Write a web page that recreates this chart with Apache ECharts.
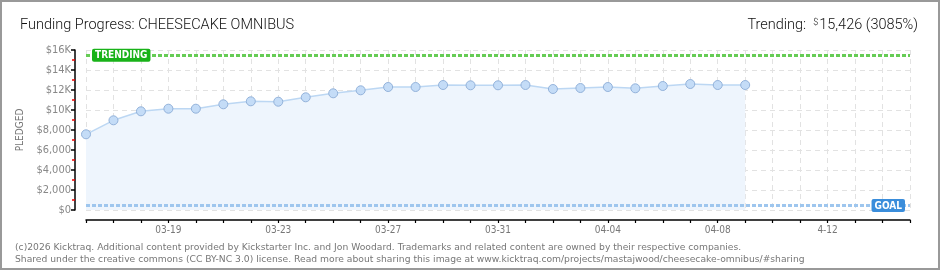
<!DOCTYPE html>
<html><head><meta charset="utf-8">
<script src="https://cdn.jsdelivr.net/npm/echarts@6/dist/echarts.min.js"></script>
<style>
html,body{margin:0;padding:0;background:#fff;}
#wrap{position:absolute;left:0;top:0;width:936px;height:266px;border:2px solid #999;}
#c{position:absolute;left:-2px;top:-2px;width:940px;height:270px;}
</style></head><body>
<div id="wrap"><div id="c"></div></div>
<script>
const categories = ['03-16','03-17','03-18','03-19','03-20','03-21','03-22','03-23','03-24','03-25','03-26','03-27','03-28','03-29','03-30','03-31','04-01','04-02','04-03','04-04','04-05','04-06','04-07','04-08','04-09','04-10','04-11','04-12','04-13','04-14','04-15'];
const xTickLabels = {'03-19':'03-19','03-23':'03-23','03-27':'03-27','03-31':'03-31','04-04':'04-04','04-08':'04-08','04-12':'4-12'};
const pledged = [7570,8970,9870,10130,10130,10570,10870,10830,11270,11670,11970,12300,12300,12500,12470,12470,12500,12100,12200,12300,12170,12400,12600,12500,12500];
const yTickLabels = ['$0','$2,000','$4,000','$6,000','$8,000','$10K','$12K','$14K','$16K'];
const trending = 15426;
const goal = 500;

const chart = echarts.init(document.getElementById('c'));
const pixFont = '"DejaVu Sans Condensed","DejaVu Sans",sans-serif';
const titleFont = 'Roboto,sans-serif';
chart.setOption({
  animation:false,
  title:[
    {text:'Funding Progress: CHEESECAKE OMNIBUS',left:15,top:13,textStyle:{fontFamily:titleFont,fontWeight:300,fontSize:14.5,color:'#111'}},
    {text:'Trending:  {s|$}15,426 (3085%)',right:17,top:13,textStyle:{fontFamily:titleFont,fontWeight:300,fontSize:14.5,color:'#111',rich:{s:{fontSize:9,verticalAlign:'top',color:'#111',fontFamily:titleFont,fontWeight:300,padding:[0,1,6,0]}}}},
    {text:'(c)2026 Kicktraq. Additional content provided by Kickstarter Inc. and Jon Woodard. Trademarks and related content are owned by their respective companies.\nShared under the creative commons (CC BY-NC 3.0) license. Read more about sharing this image at www.kicktraq.com/projects/mastajwood/cheesecake-omnibus/#sharing',
     left:10,top:236,textStyle:{fontFamily:'DejaVu Sans',fontWeight:'normal',fontSize:9.2,color:'#777',lineHeight:12.5}}
  ],
  grid:{left:86,top:50,right:30,bottom:60},
  xAxis:{
    type:'category',data:categories,boundaryGap:false,offset:10,
    axisLine:{onZero:false,lineStyle:{color:'#000',width:1.5}},
    axisTick:{interval:0,length:3,lineStyle:{color:'#000',width:1.2}},
    axisLabel:{interval:0,formatter:v=>xTickLabels[v]||'',color:'#777',fontFamily:pixFont,fontSize:10,margin:5},
    splitLine:{show:true,interval:0,lineStyle:{color:'#e2e2e2',type:[5,4]}}
  },
  yAxis:{
    type:'value',min:0,max:16000,interval:2000,offset:11,
    name:'PLEDGED',nameLocation:'middle',nameGap:50,nameRotate:90,
    nameTextStyle:{color:'#777',fontFamily:pixFont,fontSize:10,fontWeight:'normal'},
    axisLine:{show:true,onZero:false,lineStyle:{color:'#000',width:1.5}},
    axisTick:{show:true,inside:false,length:4,lineStyle:{color:'#000',width:1.5}},
    minorTick:{show:true,splitNumber:2,length:3,lineStyle:{color:'#e00',width:1.5}},
    axisLabel:{formatter:v=>yTickLabels[Math.round(v/2000)],color:'#888',fontFamily:pixFont,fontSize:11,margin:4},
    splitLine:{show:true,lineStyle:{color:'#e2e2e2',type:[5,4]}}
  },
  series:[{
    type:'line',data:pledged,
    symbol:'circle',symbolSize:9,
    itemStyle:{color:'#c4dcf7',borderColor:'#93b2da',borderWidth:1},
    lineStyle:{color:'#bcd7f3',width:1.5},
    areaStyle:{color:'#eef5fd',opacity:1},
    z:3,
    markLine:{
      silent:true,symbol:'none',
      data:[
        {yAxis:trending,lineStyle:{color:'#66cc55',type:[4,2],width:3},
         label:{show:true,position:'insideStartTop',formatter:'{g| }{t|TRENDING}',distance:-6,
           rich:{g:{width:12,fontSize:10},t:{backgroundColor:'#19b219',color:'#fff',fontFamily:pixFont,fontSize:10,fontWeight:'bold',padding:[2,3,1,3],borderRadius:2}}}},
        {yAxis:goal,lineStyle:{color:'#9ec6ee',type:[4,2],width:3},
         label:{show:true,position:'insideEndTop',formatter:'{t|GOAL}{g| }',distance:-7,
           rich:{g:{width:12,fontSize:10},t:{backgroundColor:'#3a8ddb',color:'#fff',fontFamily:pixFont,fontSize:10,fontWeight:'bold',padding:[2,3,1,3],borderRadius:2}}}}
      ]
    }
  }]
});
</script></body></html>
